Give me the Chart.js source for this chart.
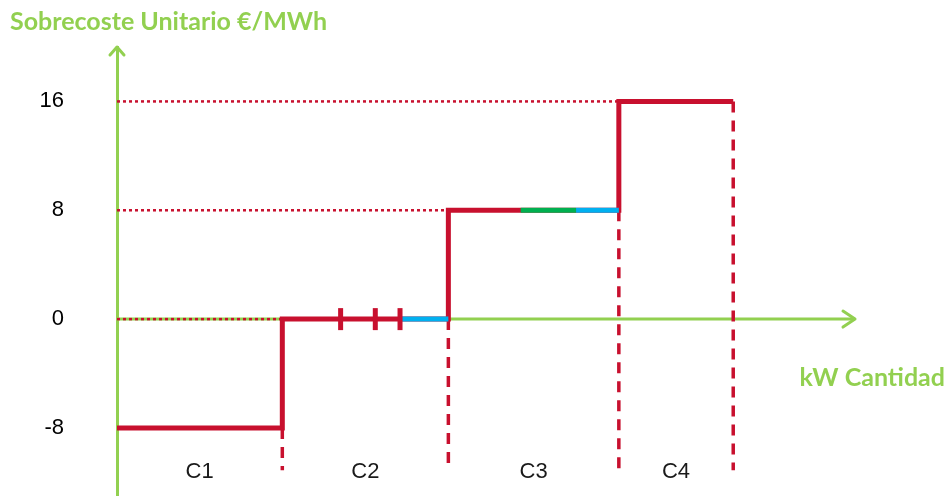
<!DOCTYPE html>
<html>
<head>
<meta charset="utf-8">
<script src="https://cdn.jsdelivr.net/npm/chart.js@4/dist/chart.umd.min.js"></script>
<style>
  html, body { margin: 0; padding: 0; background: #ffffff; overflow: hidden; }
  canvas { display: block; position: absolute; left: 0; top: 0; }
</style>
</head>
<body>
<canvas id="chart" width="952" height="496" style="width:952px;height:496px"></canvas>
<script>
// Surcharge blocks: unit cost (€/MWh) per block and cumulative quantity edges (kW)
const blockNames = ['C1', 'C2', 'C3', 'C4'];
const blockLevels = [-8, 0, 8, 16];
const blockEdges = [0, 22.4, 44.9, 68, 83.5];

// Offer boundaries inside C2 and coloured tranches
const c2OfferMarks = [30.3, 35.0, 38.35];
const c2BlueSpan = [38.6, 44.9];
const c3GreenSpan = [54.7, 62.2];
const c3BlueSpan = [62.2, 68];

const yTickValues = [-8, 0, 8, 16];
const guideFloor = -11.1;

const RED = '#c8102e';
const AXIS_GREEN = '#92d050';
const BLUE = '#00b0f0';
const GREEN = '#00b050';

// Step outline built from the block levels and edges
const stepPoints = [];
blockLevels.forEach((lv, i) => {
  stepPoints.push({ x: blockEdges[i], y: lv });
  stepPoints.push({ x: blockEdges[i + 1], y: lv });
});

const span = (s, lv) => [{ x: s[0], y: lv }, { x: s[1], y: lv }];

const lineBase = {
  type: 'line',
  pointRadius: 0,
  tension: 0,
  fill: false,
  clip: false
};

const datasets = [];

// C2 offer separators
datasets.push({
  type: 'scatter',
  data: c2OfferMarks.map(v => ({ x: v, y: blockLevels[1] })),
  pointStyle: 'line',
  rotation: 90,
  radius: 11,
  borderWidth: 5,
  borderColor: RED,
  backgroundColor: RED,
  clip: false
});

// coloured tranches
datasets.push({ ...lineBase, data: span(c2BlueSpan, blockLevels[1]), borderColor: BLUE, borderWidth: 5 });
datasets.push({ ...lineBase, data: span(c3GreenSpan, blockLevels[2]), borderColor: GREEN, borderWidth: 5 });
datasets.push({ ...lineBase, data: span(c3BlueSpan, blockLevels[2]), borderColor: BLUE, borderWidth: 5 });

// main step curve
datasets.push({ ...lineBase, data: stepPoints, borderColor: RED, borderWidth: 5, borderJoinStyle: 'miter', borderCapStyle: 'butt' });

// dashed drops below each block end
for (let i = 1; i < blockEdges.length; i++) {
  datasets.push({
    ...lineBase,
    data: [{ x: blockEdges[i], y: blockLevels[i - 1] }, { x: blockEdges[i], y: guideFloor }],
    borderColor: RED, borderWidth: 3.5, borderDash: [11, 8]
  });
}

// dotted level guides from the vertical axis
for (let i = 1; i < blockLevels.length; i++) {
  datasets.push({
    ...lineBase,
    data: [{ x: 0, y: blockLevels[i] }, { x: blockEdges[i], y: blockLevels[i] }],
    borderColor: RED, borderWidth: 2.5, borderDash: [3, 3]
  });
}

// Quantity axis line at zero cost, with arrow heads on both axes
const axisLines = {
  id: 'axisLines',
  beforeDatasetsDraw(chart) {
    const { ctx, chartArea: a, scales: { x, y } } = chart;
    const y0 = y.getPixelForValue(0);
    ctx.save();
    ctx.strokeStyle = AXIS_GREEN;
    ctx.lineWidth = 3;
    ctx.beginPath();
    ctx.moveTo(x.getPixelForValue(0), y0);
    ctx.lineTo(a.right, y0);
    ctx.stroke();
    ctx.lineCap = 'round';
    ctx.lineJoin = 'round';
    ctx.beginPath();
    ctx.moveTo(a.left - 7, a.top + 8);
    ctx.lineTo(a.left, a.top);
    ctx.lineTo(a.left + 7, a.top + 8);
    ctx.stroke();
    ctx.beginPath();
    ctx.moveTo(a.right - 12, y0 - 8);
    ctx.lineTo(a.right, y0);
    ctx.lineTo(a.right - 12, y0 + 8);
    ctx.stroke();
    ctx.restore();
  },
  afterDraw(chart) {
    const { ctx, chartArea: a, scales: { x, y } } = chart;
    const y0 = y.getPixelForValue(0);
    ctx.save();
    // block names centred under each block
    ctx.fillStyle = '#1a1a1a';
    ctx.font = '22px "Liberation Sans", Arial, sans-serif';
    ctx.textAlign = 'center';
    ctx.textBaseline = 'middle';
    blockNames.forEach((n, i) => {
      const cx = x.getPixelForValue((blockEdges[i] + blockEdges[i + 1]) / 2);
      ctx.fillText(n, cx, a.bottom - 24);
    });
    // quantity axis name
    ctx.fillStyle = AXIS_GREEN;
    ctx.font = 'bold 25px Lato, "Open Sans", sans-serif';
    ctx.textAlign = 'right';
    ctx.fillText('kW Cantidad', chart.width - 7, y0 + 59);
    ctx.restore();
  }
};

new Chart(document.getElementById('chart'), {
  type: 'line',
  data: { datasets },
  options: {
    responsive: false,
    devicePixelRatio: 1,
    animation: false,
    events: [],
    layout: { autoPadding: false, padding: { left: 10, right: 97, top: 0, bottom: 0 } },
    plugins: {
      legend: { display: false },
      tooltip: { enabled: false },
      title: {
        display: true,
        text: 'Sobrecoste Unitario €/MWh',
        align: 'start',
        color: AXIS_GREEN,
        font: { family: 'Lato', size: 25, weight: 'bold', lineHeight: 1.2 },
        padding: { top: 7, bottom: 10 }
      }
    },
    scales: {
      x: {
        type: 'linear',
        display: false,
        min: 0,
        max: 100
      },
      y: {
        type: 'linear',
        min: -13,
        max: 20,
        grid: { display: false, drawTicks: false },
        border: { display: true, color: AXIS_GREEN, width: 3 },
        afterBuildTicks(scale) {
          scale.ticks = yTickValues.map(v => ({ value: v }));
        },
        afterFit(scale) {
          // labels sit well left of the axis; no extra vertical room needed for them
          scale.width = 107;
          scale.paddingTop = 0;
          scale.paddingBottom = 0;
        },
        ticks: {
          padding: 53,
          color: '#000000',
          font: { family: '"Liberation Sans", Arial, sans-serif', size: 22 }
        }
      }
    }
  },
  plugins: [axisLines]
});
</script>
</body>
</html>
